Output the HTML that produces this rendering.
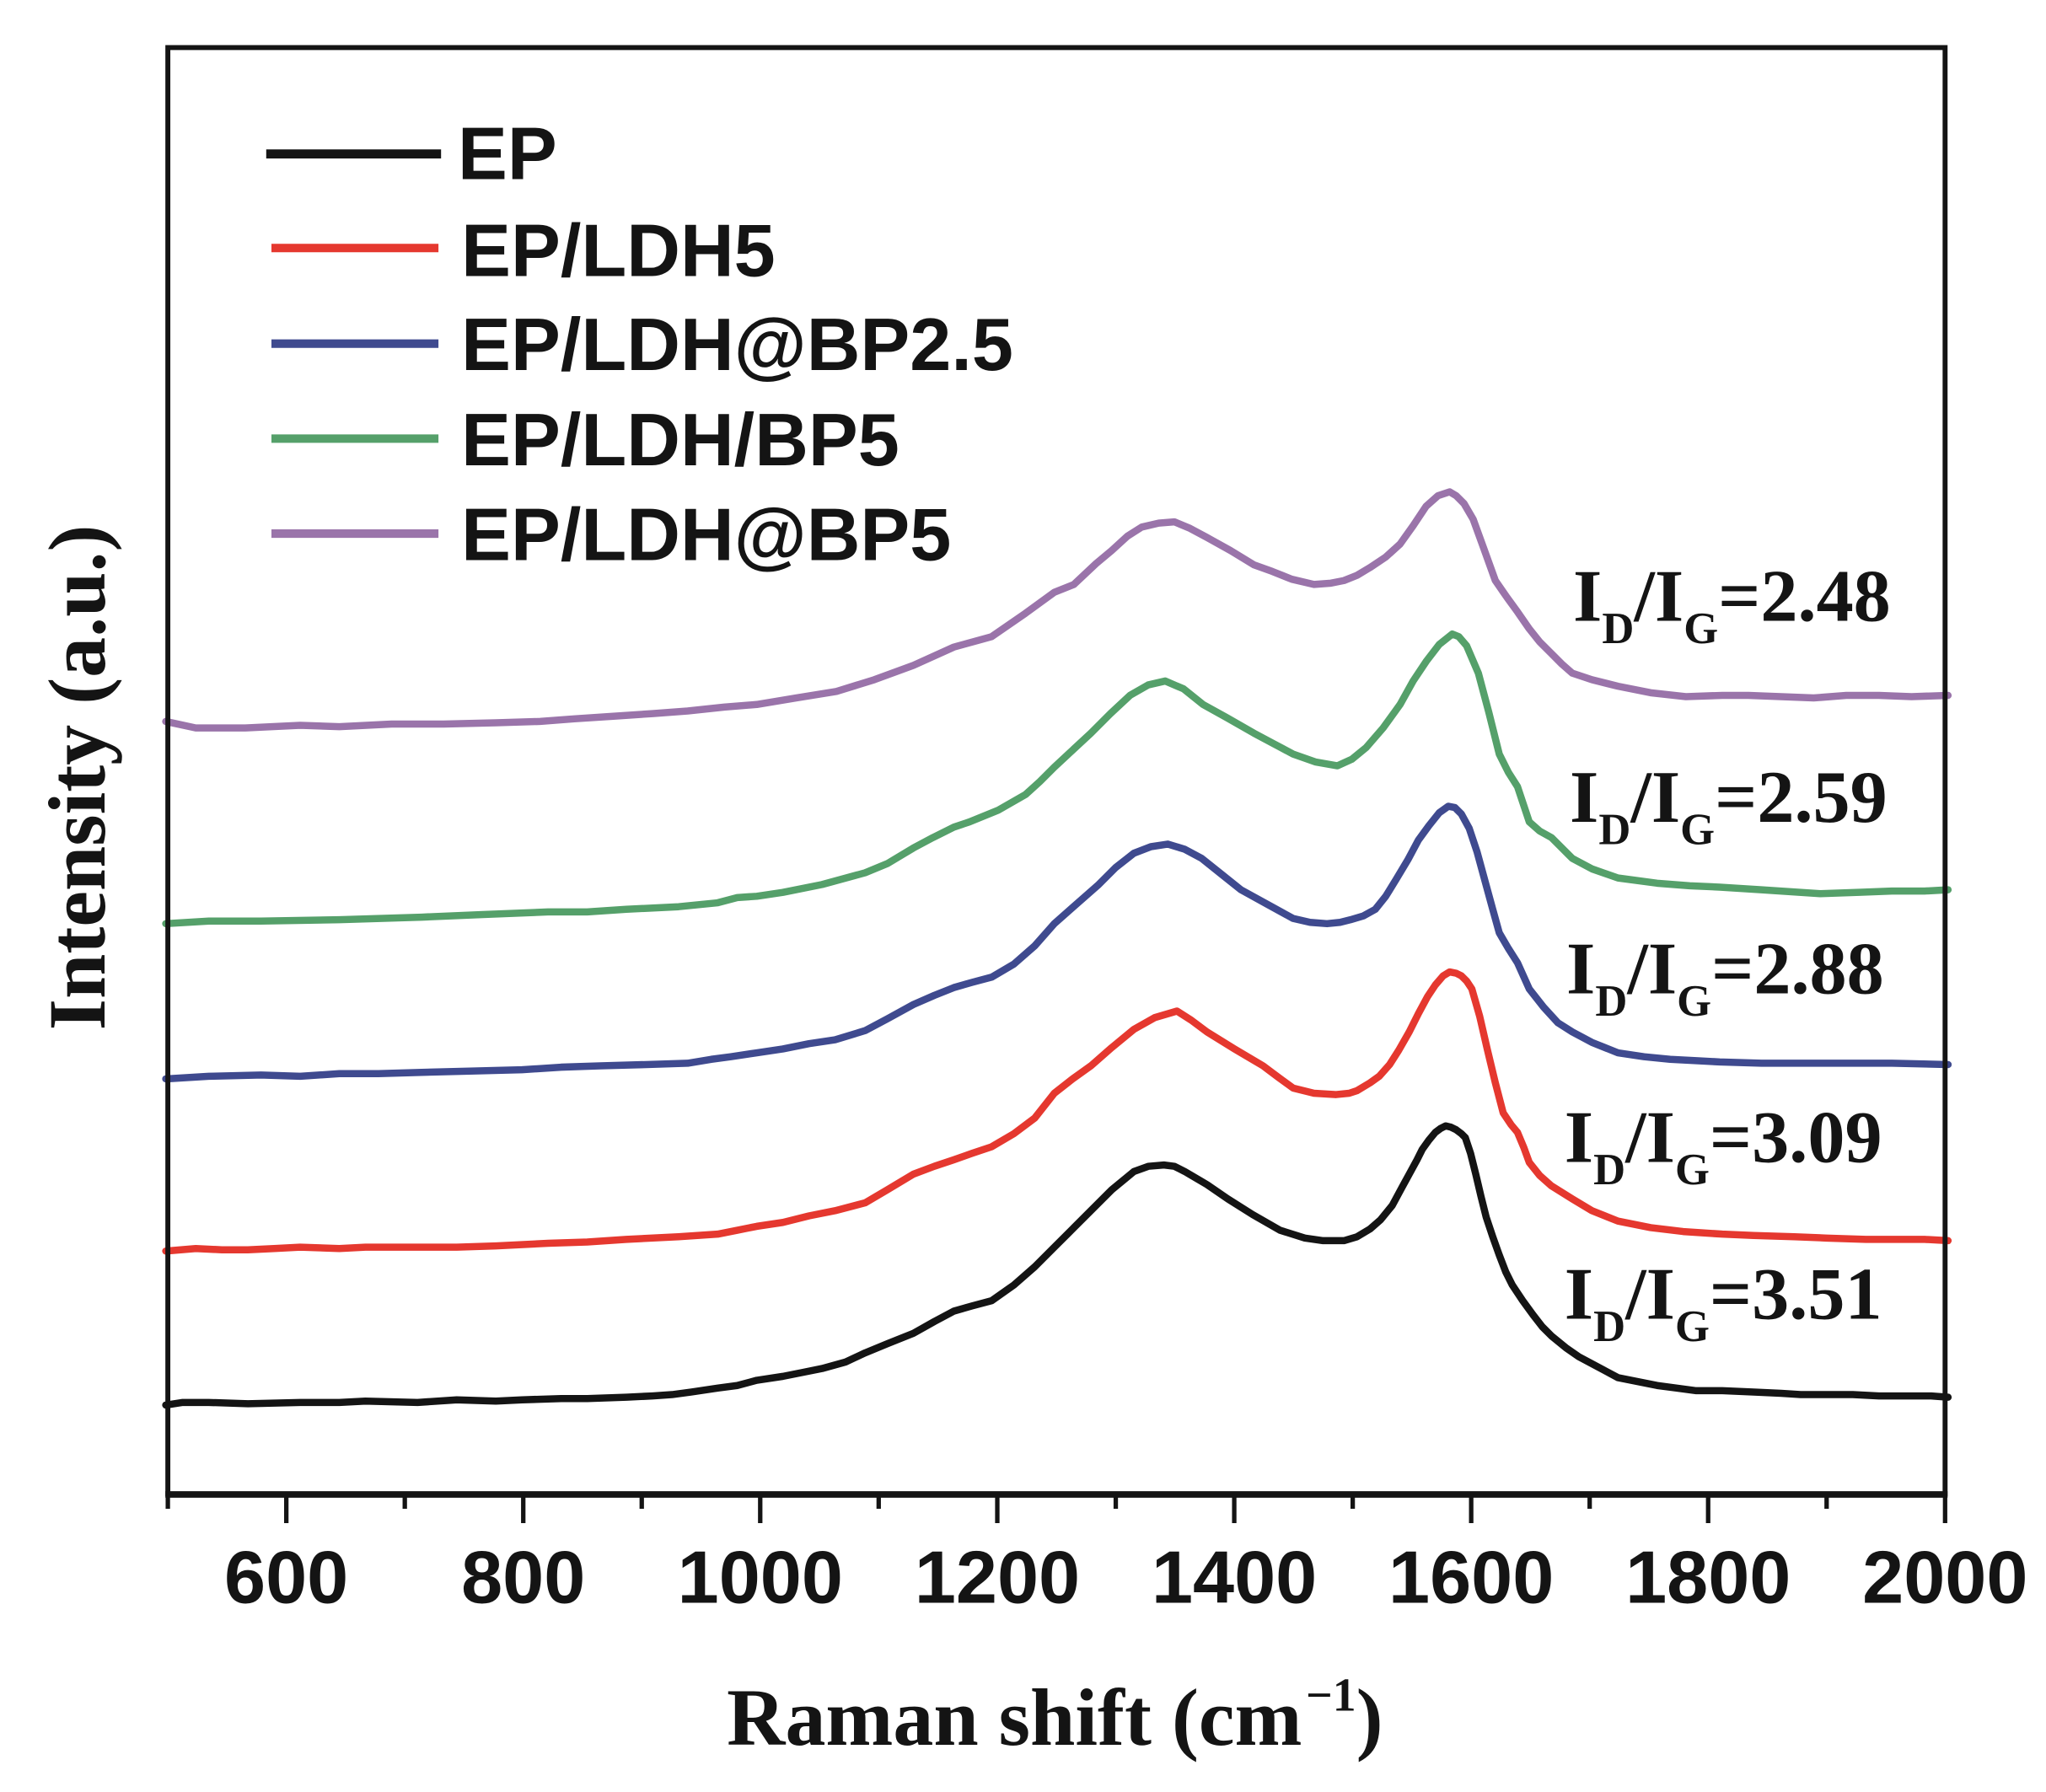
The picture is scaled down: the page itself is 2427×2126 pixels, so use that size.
<!DOCTYPE html>
<html>
<head>
<meta charset="utf-8">
<style>
html,body{margin:0;padding:0;background:#fff;}
svg{display:block;}
</style>
</head>
<body>
<svg xmlns="http://www.w3.org/2000/svg" width="2427" height="2126" viewBox="0 0 1568 1373.6">
<rect x="0" y="0" width="1568" height="1373.6" fill="#ffffff"/>

<!-- series -->
<g fill="none" stroke-width="5.5" stroke-linejoin="round" stroke-linecap="round">
<polyline stroke="#9a74aa" points="127,553 150,558 188,558 230,556 260,557 300,555 340,555 380,554 414,553 440,551 470,549 500,547 527,545 555,542 580,540 610,535 641,530 670,521 700,510 731,496 760,488 786,470 808,454 823,448 840,432 852,422 864,411 875,404 888,401 900,400 912,405 925,412 943,422 961,433 975,438 990,444 1007,448 1020,447 1030,445 1040,441 1050,435 1062,427 1073,417 1083,403 1093,388 1102,380 1111,377 1116,380 1122,386 1129,398 1137,420 1146,445 1155,458 1163,469 1172,482 1180,492 1189,501 1197,509 1205,516 1220,521 1240,526 1265,531 1292,534 1320,533 1340,533 1365,534 1390,535 1415,533 1440,533 1465,534 1493,533"/>
<polyline stroke="#55a06a" points="127,708 160,706 200,706 260,705 323,703 370,701 420,699 450,699 480,697 520,695 550,692 565,688 580,687 600,684 630,678 663,669 680,662 700,650 715,642 731,634 743,630 765,621 786,609 797,599 808,588 822,575 836,562 851,547 866,533 880,525 893,522 907,528 922,540 940,550 961,562 976,570 991,578 1008,584 1025,587 1036,582 1047,573 1060,558 1073,540 1083,522 1093,507 1103,494 1113,486 1118,488 1124,495 1133,516 1141,546 1149,578 1156,592 1163,603 1172,630 1180,637 1189,642 1197,650 1205,658 1220,666 1240,673 1270,677 1295,679 1318,680 1350,682 1395,685 1425,684 1450,683 1475,683 1493,682"/>
<polyline stroke="#3f4a8f" points="127,827 160,825 200,824 230,825 260,823 290,823 323,822 360,821 400,820 430,818 460,817 495,816 527,815 545,812 560,810 580,807 600,804 620,800 640,797 663,790 680,781 700,770 716,763 731,757 745,753 760,749 777,739 793,725 808,708 825,693 842,678 855,665 869,654 882,649 895,647 908,651 921,658 936,670 951,682 971,693 991,704 1004,707 1017,708 1027,707 1035,705 1045,702 1054,697 1062,687 1070,674 1079,659 1087,644 1095,633 1103,623 1110,618 1115,619 1120,624 1126,635 1132,653 1138,675 1144,697 1149,715 1156,727 1163,738 1172,758 1183,772 1194,784 1205,791 1220,799 1240,807 1260,810 1280,812 1300,813 1318,814 1350,815 1400,815 1450,815 1493,816"/>
<polyline stroke="#e5382f" points="127,959 150,957 170,958 190,958 210,957 230,956 260,957 280,956 323,956 350,956 380,955 420,953 450,952 480,950 520,948 550,946 565,943 580,940 600,937 620,932 640,928 663,922 680,912 700,900 716,894 731,889 745,884 760,879 777,869 793,857 808,838 822,827 836,817 852,803 869,789 885,780 902,775 913,782 925,791 946,804 968,817 980,826 991,834 1007,838 1024,839 1034,838 1040,836 1050,830 1057,825 1065,816 1072,805 1080,791 1087,777 1094,764 1100,755 1106,748 1111,745 1116,746 1120,748 1124,752 1128,758 1134,779 1140,805 1146,830 1152,853 1158,862 1163,868 1168,880 1172,891 1180,901 1189,909 1197,914 1205,919 1220,928 1240,936 1265,941 1290,944 1320,946 1344,947 1375,948 1400,949 1430,950 1450,950 1475,950 1493,951"/>
<polyline stroke="#141414" points="127,1077 140,1075 160,1075 190,1076 230,1075 260,1075 280,1074 320,1075 350,1073 380,1074 400,1073 430,1072 450,1072 480,1071 500,1070 515,1069 530,1067 550,1064 565,1062 580,1058 600,1055 615,1052 630,1049 648,1044 663,1037 680,1030 700,1022 716,1013 731,1005 745,1001 760,997 777,985 793,971 808,956 822,942 836,928 852,912 869,898 880,894 892,893 900,894 908,898 925,908 941,919 960,931 981,943 1000,949 1014,951 1030,951 1040,948 1050,942 1058,935 1067,924 1074,911 1080,900 1086,889 1090,881 1095,874 1100,868 1104,865 1108,863 1112,864 1116,866 1120,869 1123,872 1127,884 1131,900 1135,917 1139,933 1144,948 1149,962 1154,975 1159,985 1167,997 1175,1008 1182,1017 1189,1024 1200,1033 1210,1040 1225,1048 1240,1056 1255,1059 1270,1062 1285,1064 1300,1066 1320,1066 1344,1067 1365,1068 1380,1069 1400,1069 1420,1069 1440,1070 1460,1070 1480,1070 1493,1071"/>
</g>

<!-- axes frame -->
<g stroke="#141414" fill="none">
<line x1="128.6" y1="36.5" x2="1490.7" y2="36.5" stroke-width="3.8"/>
<line x1="128.6" y1="34.6" x2="128.6" y2="1147" stroke-width="3.8"/>
<line x1="1490.7" y1="34.6" x2="1490.7" y2="1147" stroke-width="3.8"/>
<line x1="126.7" y1="1145.5" x2="1492.6" y2="1145.5" stroke-width="5"/>
</g>

<!-- ticks -->
<g stroke="#141414" stroke-width="3.4">
<line x1="128.6" y1="1145" x2="128.6" y2="1156.5"/>
<line x1="219.4" y1="1145" x2="219.4" y2="1167.5"/>
<line x1="310.2" y1="1145" x2="310.2" y2="1156.5"/>
<line x1="401.0" y1="1145" x2="401.0" y2="1167.5"/>
<line x1="491.8" y1="1145" x2="491.8" y2="1156.5"/>
<line x1="582.6" y1="1145" x2="582.6" y2="1167.5"/>
<line x1="673.4" y1="1145" x2="673.4" y2="1156.5"/>
<line x1="764.3" y1="1145" x2="764.3" y2="1167.5"/>
<line x1="855.1" y1="1145" x2="855.1" y2="1156.5"/>
<line x1="945.9" y1="1145" x2="945.9" y2="1167.5"/>
<line x1="1036.7" y1="1145" x2="1036.7" y2="1156.5"/>
<line x1="1127.5" y1="1145" x2="1127.5" y2="1167.5"/>
<line x1="1218.3" y1="1145" x2="1218.3" y2="1156.5"/>
<line x1="1309.1" y1="1145" x2="1309.1" y2="1167.5"/>
<line x1="1399.9" y1="1145" x2="1399.9" y2="1156.5"/>
<line x1="1490.7" y1="1145" x2="1490.7" y2="1167.5"/>
</g>

<!-- tick labels -->
<g font-family="'Liberation Sans', Arial, sans-serif" font-weight="bold" font-size="57" fill="#141414" text-anchor="middle">
<text x="219.4" y="1228.7">600</text>
<text x="401.0" y="1228.7">800</text>
<text x="582.6" y="1228.7">1000</text>
<text x="764.3" y="1228.7">1200</text>
<text x="945.9" y="1228.7">1400</text>
<text x="1127.5" y="1228.7">1600</text>
<text x="1309.1" y="1228.7">1800</text>
<text x="1490.7" y="1228.7">2000</text>
</g>

<!-- x axis title -->
<text x="557" y="1337.4" font-family="'Liberation Serif', 'Times New Roman', serif" font-weight="bold" font-size="62" fill="#141414">Raman shift (cm<tspan font-size="36" dx="3" dy="-26">−1</tspan><tspan dy="26">)</tspan></text>

<!-- y axis title -->
<text transform="translate(80,596) rotate(-90)" x="0" y="0" text-anchor="middle" font-family="'Liberation Serif', 'Times New Roman', serif" font-weight="bold" font-size="62" fill="#141414">Intensity (a.u.)</text>

<!-- legend -->
<g stroke-linecap="butt">
<line x1="204" y1="118" x2="338" y2="118" stroke="#141414" stroke-width="7"/>
<line x1="208" y1="190.1" x2="336" y2="190.1" stroke="#e5382f" stroke-width="6.5"/>
<line x1="208" y1="263.4" x2="336" y2="263.4" stroke="#3f4a8f" stroke-width="6.5"/>
<line x1="208" y1="336.2" x2="336" y2="336.2" stroke="#55a06a" stroke-width="6.5"/>
<line x1="208" y1="409" x2="336" y2="409" stroke="#9a74aa" stroke-width="6.5"/>
</g>
<g font-family="'Liberation Sans', Arial, sans-serif" font-weight="bold" font-size="57" fill="#141414">
<text x="350.8" y="137.4">EP</text>
<text x="353.5" y="211.5">EP/LDH5</text>
<text x="353.5" y="283.5">EP/LDH@BP2.5</text>
<text x="353.5" y="356.7">EP/LDH/BP5</text>
<text x="353.5" y="429.3">EP/LDH@BP5</text>
</g>

<!-- ID/IG annotations -->
<g font-family="'Liberation Serif', 'Times New Roman', serif" font-weight="bold" font-size="57" fill="#141414">
<text x="1205.6" y="476">I<tspan font-size="34" dy="17">D</tspan><tspan dy="-17">/I</tspan><tspan font-size="34" dy="17">G</tspan><tspan dy="-17">=2.48</tspan></text>
<text x="1203" y="630">I<tspan font-size="34" dy="17">D</tspan><tspan dy="-17">/I</tspan><tspan font-size="34" dy="17">G</tspan><tspan dy="-17">=2.59</tspan></text>
<text x="1200.4" y="761.5">I<tspan font-size="34" dy="17">D</tspan><tspan dy="-17">/I</tspan><tspan font-size="34" dy="17">G</tspan><tspan dy="-17">=2.88</tspan></text>
<text x="1199" y="890.7">I<tspan font-size="34" dy="17">D</tspan><tspan dy="-17">/I</tspan><tspan font-size="34" dy="17">G</tspan><tspan dy="-17">=3.09</tspan></text>
<text x="1199" y="1010.8">I<tspan font-size="34" dy="17">D</tspan><tspan dy="-17">/I</tspan><tspan font-size="34" dy="17">G</tspan><tspan dy="-17">=3.51</tspan></text>
</g>
</svg>
</body>
</html>
